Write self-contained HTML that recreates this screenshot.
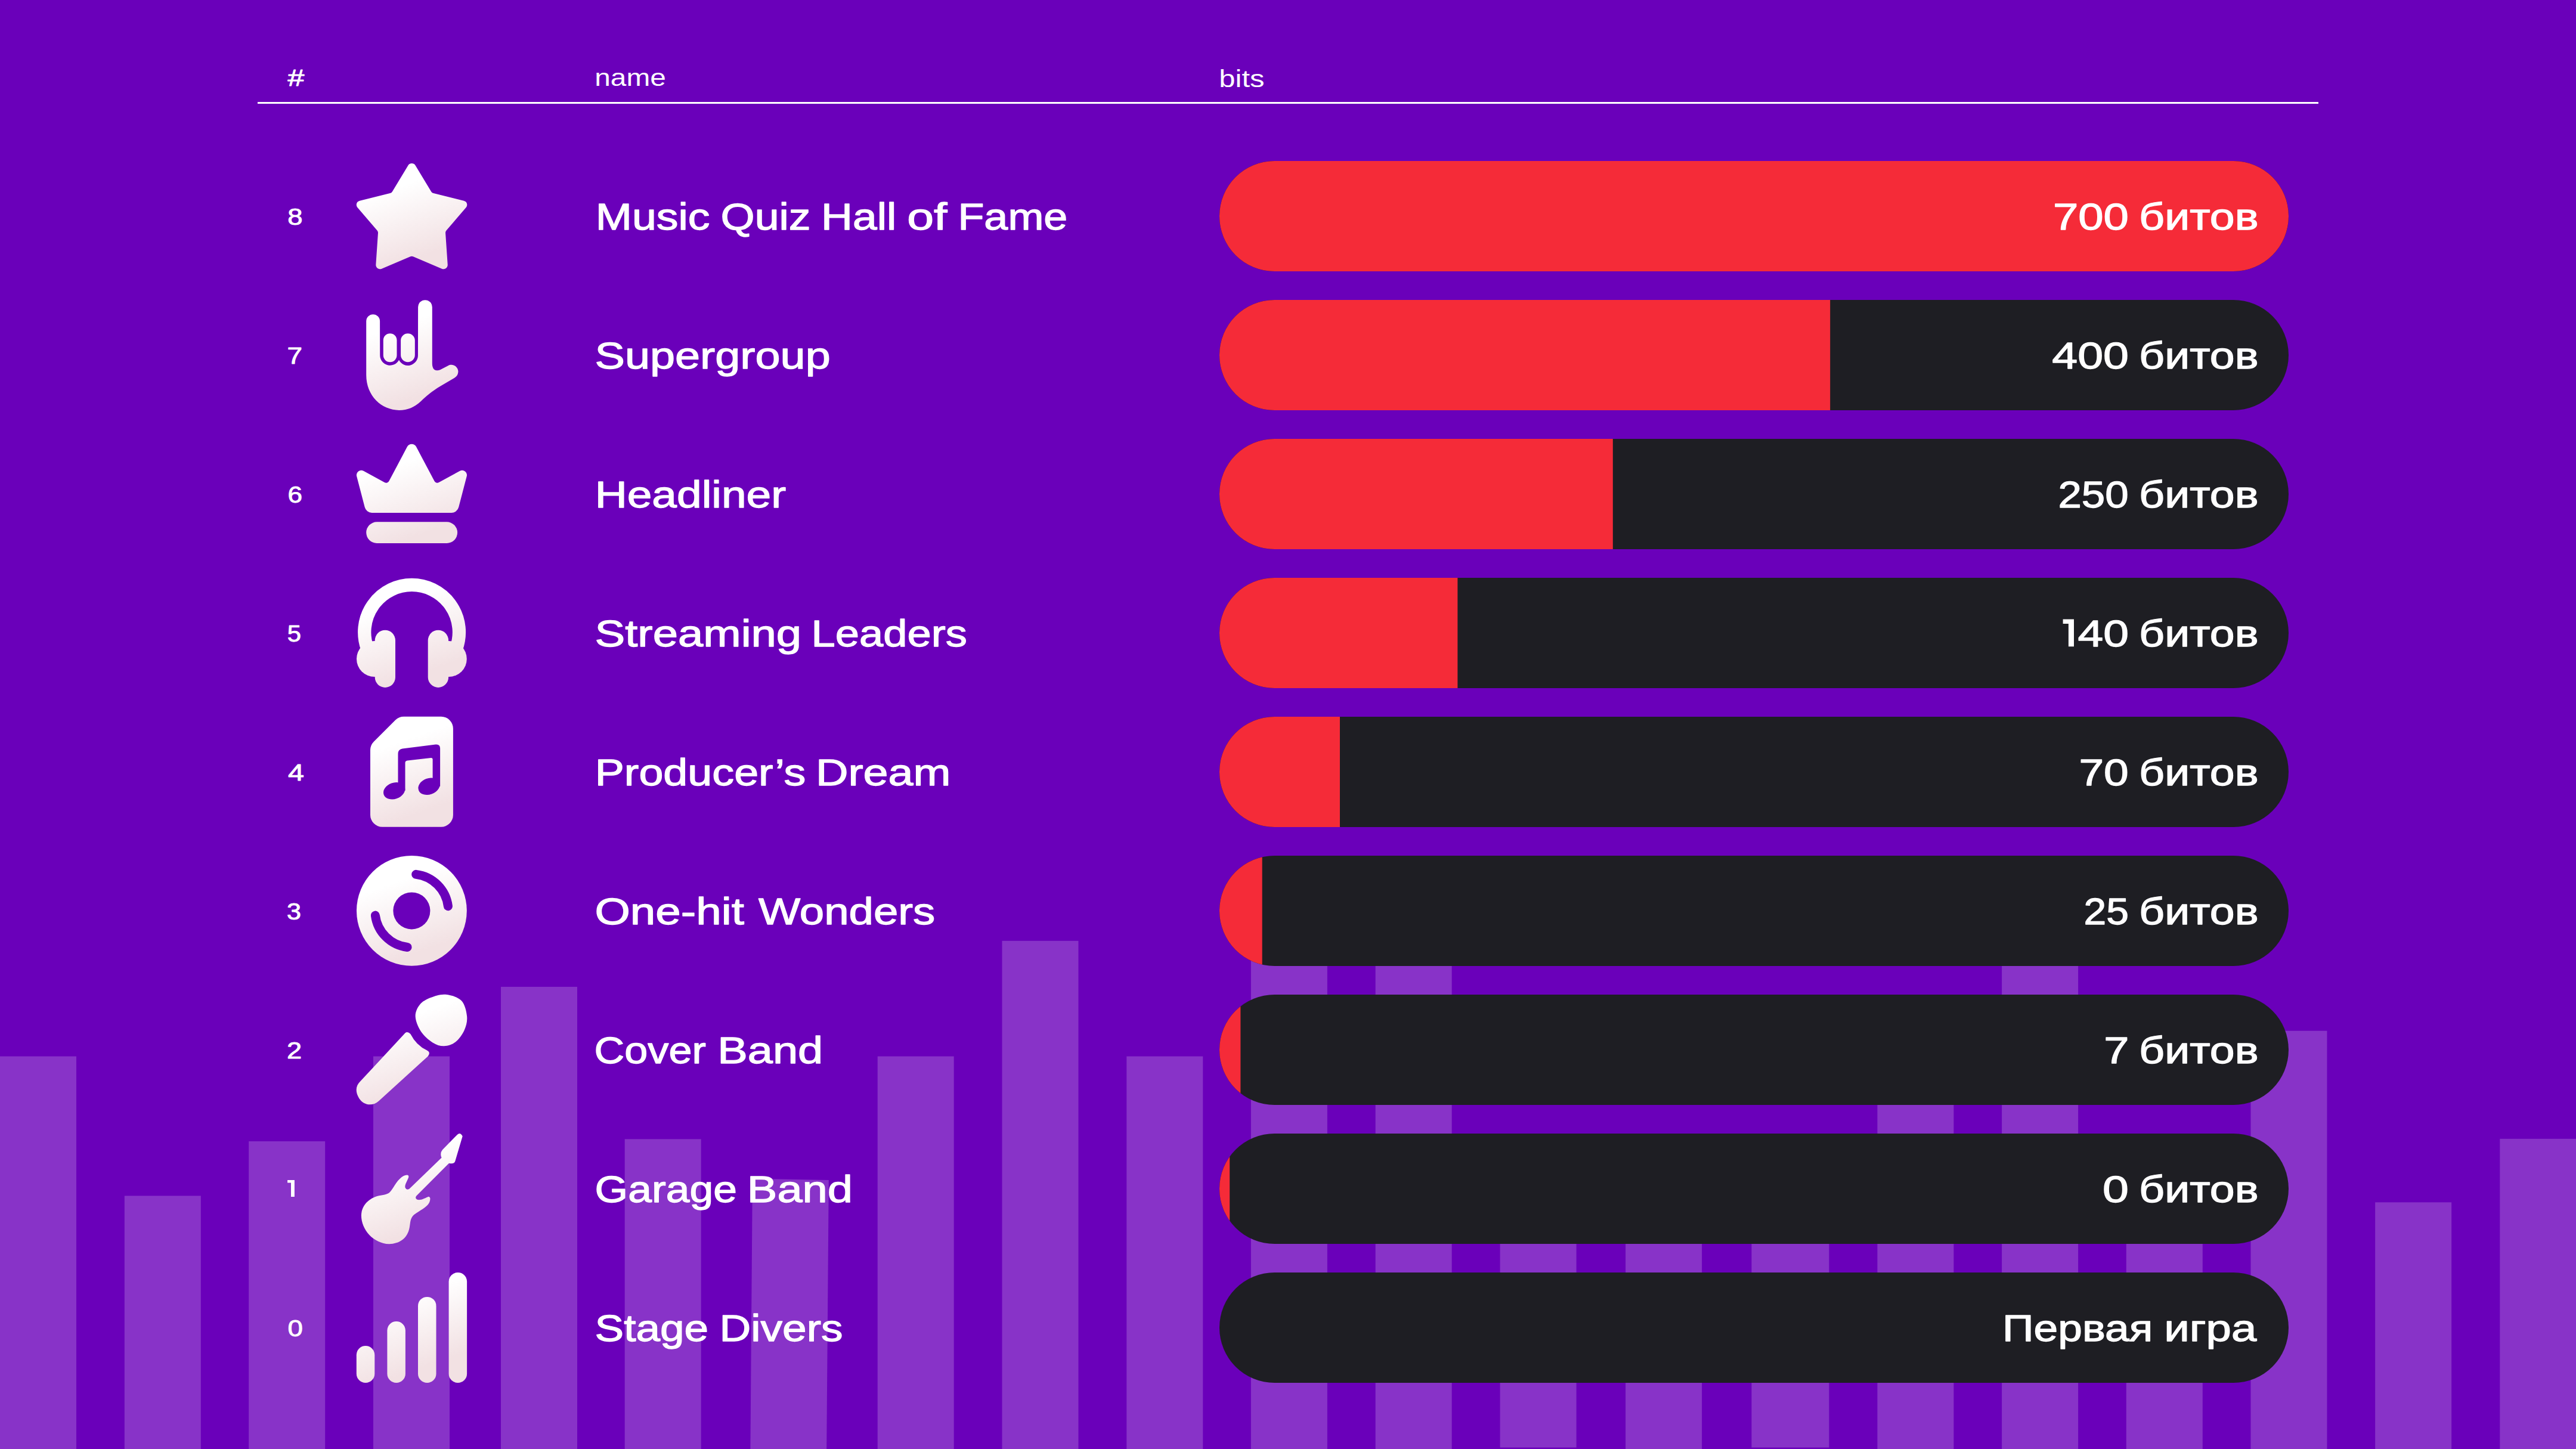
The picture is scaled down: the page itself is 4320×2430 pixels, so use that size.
<!DOCTYPE html>
<html><head><meta charset="utf-8"><title>Leaderboard</title>
<style>
html,body{margin:0;padding:0;}
body{width:4320px;height:2430px;overflow:hidden;background:#6A00BA;font-family:"Liberation Sans",sans-serif;}
svg{position:absolute;left:0;top:0;display:block;}
text{fill:#fff;font-family:"Liberation Sans",sans-serif;}
.b{font-weight:400;stroke:#fff;stroke-linejoin:round;}
.r{font-weight:400;}
.t{font-size:63px;stroke-width:1.3px;}
.n{font-size:39px;stroke-width:0.9px;}
.h{font-size:40px;}
</style></head><body>
<svg width="4320" height="2430" viewBox="0 0 4320 2430">
<rect fill="#8833C8" x="0" y="1771.5" width="128" height="658.5"/>
<rect fill="#8833C8" x="208.8" y="2005.4" width="128" height="424.6"/>
<rect fill="#8833C8" x="417.2" y="1914" width="128" height="516"/>
<rect fill="#8833C8" x="626" y="1771.5" width="128" height="658.5"/>
<rect fill="#8833C8" x="840" y="1654.9" width="128" height="775.1"/>
<rect fill="#8833C8" x="1047.7" y="1910.3" width="128" height="519.7"/>
<polygon fill="#8833C8" points="1261.9,1976.5 1389.8,1979.1 1386.2,2430 1258.4,2430"/>
<rect fill="#8833C8" x="1471.7" y="1771.5" width="128" height="658.5"/>
<rect fill="#8833C8" x="1680.5" y="1577.8" width="128" height="852.2"/>
<rect fill="#8833C8" x="1889.3" y="1771.5" width="128" height="658.5"/>
<rect fill="#8833C8" x="2097.9" y="1577.8" width="128" height="852.2"/>
<rect fill="#8833C8" x="2306.7" y="1577.8" width="128" height="852.2"/>
<rect fill="#8833C8" x="2515.6" y="1990" width="128" height="437.5"/>
<rect fill="#8833C8" x="2726.1" y="1978" width="128" height="452"/>
<rect fill="#8833C8" x="2937.4" y="1990" width="130" height="437.5"/>
<rect fill="#8833C8" x="3148.4" y="1771.5" width="128" height="658.5"/>
<rect fill="#8833C8" x="3357.1" y="1577.8" width="128" height="852.2"/>
<rect fill="#8833C8" x="3565.8" y="2005.4" width="128" height="424.6"/>
<rect fill="#8833C8" x="3774.5" y="1728.7" width="128" height="701.3"/>
<rect fill="#8833C8" x="3983.2" y="2016.3" width="128" height="413.7"/>
<rect fill="#8833C8" x="4192.3" y="1909.8" width="128" height="520.2"/>
<rect fill="#fff" x="432" y="171" width="3456" height="3"/>
<defs>
<clipPath id="c0"><rect x="2045" y="270" width="1793" height="185" rx="92.5"/></clipPath>
<clipPath id="c1"><rect x="2045" y="503" width="1793" height="185" rx="92.5"/></clipPath>
<clipPath id="c2"><rect x="2045" y="736" width="1793" height="185" rx="92.5"/></clipPath>
<clipPath id="c3"><rect x="2045" y="969" width="1793" height="185" rx="92.5"/></clipPath>
<clipPath id="c4"><rect x="2045" y="1202" width="1793" height="185" rx="92.5"/></clipPath>
<clipPath id="c5"><rect x="2045" y="1435" width="1793" height="185" rx="92.5"/></clipPath>
<clipPath id="c6"><rect x="2045" y="1668" width="1793" height="185" rx="92.5"/></clipPath>
<clipPath id="c7"><rect x="2045" y="1901" width="1793" height="185" rx="92.5"/></clipPath>
<clipPath id="c8"><rect x="2045" y="2134" width="1793" height="185" rx="92.5"/></clipPath>
</defs>
<g clip-path="url(#c0)"><rect fill="#1E1E23" x="2045" y="270" width="1793" height="185"/>
<rect fill="#F52B38" x="2045" y="270" width="1793" height="185"/>
</g>
<g clip-path="url(#c1)"><rect fill="#1E1E23" x="2045" y="503" width="1793" height="185"/>
<rect fill="#F52B38" x="2045" y="503" width="1024.2" height="185"/>
</g>
<g clip-path="url(#c2)"><rect fill="#1E1E23" x="2045" y="736" width="1793" height="185"/>
<rect fill="#F52B38" x="2045" y="736" width="659.8" height="185"/>
</g>
<g clip-path="url(#c3)"><rect fill="#1E1E23" x="2045" y="969" width="1793" height="185"/>
<rect fill="#F52B38" x="2045" y="969" width="399.4" height="185"/>
</g>
<g clip-path="url(#c4)"><rect fill="#1E1E23" x="2045" y="1202" width="1793" height="185"/>
<rect fill="#F52B38" x="2045" y="1202" width="202" height="185"/>
</g>
<g clip-path="url(#c5)"><rect fill="#1E1E23" x="2045" y="1435" width="1793" height="185"/>
<rect fill="#F52B38" x="2045" y="1435" width="71.7" height="185"/>
</g>
<g clip-path="url(#c6)"><rect fill="#1E1E23" x="2045" y="1668" width="1793" height="185"/>
<rect fill="#F52B38" x="2045" y="1668" width="35.4" height="185"/>
</g>
<g clip-path="url(#c7)"><rect fill="#1E1E23" x="2045" y="1901" width="1793" height="185"/>
<rect fill="#F52B38" x="2045" y="1901" width="17.2" height="185"/>
</g>
<g clip-path="url(#c8)"><rect fill="#1E1E23" x="2045" y="2134" width="1793" height="185"/>
</g>
<defs>
<linearGradient id="g0" gradientUnits="userSpaceOnUse" x1="660" y1="270" x2="725" y2="455"><stop offset="0.22" stop-color="#FFFFFF"/><stop offset="0.85" stop-color="#F2E1E3"/></linearGradient>
<linearGradient id="g1" gradientUnits="userSpaceOnUse" x1="660" y1="503" x2="725" y2="688"><stop offset="0.22" stop-color="#FFFFFF"/><stop offset="0.85" stop-color="#F2E1E3"/></linearGradient>
<linearGradient id="g2" gradientUnits="userSpaceOnUse" x1="660" y1="736" x2="725" y2="921"><stop offset="0.22" stop-color="#FFFFFF"/><stop offset="0.85" stop-color="#F2E1E3"/></linearGradient>
<linearGradient id="g3" gradientUnits="userSpaceOnUse" x1="660" y1="969" x2="725" y2="1154"><stop offset="0.22" stop-color="#FFFFFF"/><stop offset="0.85" stop-color="#F2E1E3"/></linearGradient>
<linearGradient id="g4" gradientUnits="userSpaceOnUse" x1="660" y1="1202" x2="725" y2="1387"><stop offset="0.22" stop-color="#FFFFFF"/><stop offset="0.85" stop-color="#F2E1E3"/></linearGradient>
<linearGradient id="g5" gradientUnits="userSpaceOnUse" x1="660" y1="1435" x2="725" y2="1620"><stop offset="0.22" stop-color="#FFFFFF"/><stop offset="0.85" stop-color="#F2E1E3"/></linearGradient>
<linearGradient id="g6" gradientUnits="userSpaceOnUse" x1="660" y1="1668" x2="725" y2="1853"><stop offset="0.22" stop-color="#FFFFFF"/><stop offset="0.85" stop-color="#F2E1E3"/></linearGradient>
<linearGradient id="g7" gradientUnits="userSpaceOnUse" x1="660" y1="1901" x2="725" y2="2086"><stop offset="0.22" stop-color="#FFFFFF"/><stop offset="0.85" stop-color="#F2E1E3"/></linearGradient>
<linearGradient id="g8" gradientUnits="userSpaceOnUse" x1="660" y1="2134" x2="725" y2="2319"><stop offset="0.22" stop-color="#FFFFFF"/><stop offset="0.85" stop-color="#F2E1E3"/></linearGradient>
</defs>
<path fill="url(#g0)" d="M684.54,277.28 A7,7 0 0 1 696.52,277.28 L723.25,321.39 A6,6 0 0 0 726.95,324.1 L777.93,336.63 A7,7 0 0 1 781.56,347.99 L748.52,386.38 A6,6 0 0 0 747.08,390.71 L750.72,443.8 A7,7 0 0 1 740.99,450.72 L692.88,430.21 A6,6 0 0 0 688.18,430.21 L640.07,450.72 A7,7 0 0 1 630.34,443.8 L633.98,390.71 A6,6 0 0 0 632.54,386.38 L599.5,347.99 A7,7 0 0 1 603.13,336.63 L654.11,324.1 A6,6 0 0 0 657.81,321.39Z"/>
<path fill="url(#g1)" d="M614.2,538.6 A11.4,11.4 0 0 1 637.1,538.6 L637.25,595.85 A16.9,16.9 0 0 0 669.05,603.8 A16.9,16.9 0 0 0 700.95,595.85 L701.1,515 A11.85,11.85 0 0 1 724.8,515 L724.8,609 Q724.8,624.5 738,620.3 L751.5,613.2 C760,608.5 769.5,616 768.3,624.5 C767.8,629.5 764.5,632.5 760,635 L740,646.8 C722,657.5 715,664.5 705.8,673 C695,683 684,687.9 669.3,687.9 C640,687.9 614.2,664 614.2,629.1 Z"/>
<rect fill="url(#g1)" x="642.8" y="559.2" width="22.7" height="48" rx="11.35"/>
<rect fill="url(#g1)" x="672.1" y="559.2" width="23.7" height="48" rx="11.85"/>
<path fill="url(#g2)" d="M598.19,798.67 A7.9,7.9 0 0 1 609.63,789.75 L644.91,809.03 A5.5,5.5 0 0 0 652.41,806.78 L682.85,749.34 A8.6,8.6 0 0 1 698.05,749.34 L728.49,806.78 A5.5,5.5 0 0 0 735.99,809.03 L771.27,789.75 A7.9,7.9 0 0 1 782.71,798.67 L769.21,850.62 A12.4,12.4 0 0 1 757.21,859.9 L623.69,859.9 A12.4,12.4 0 0 1 611.69,850.62Z"/>
<rect fill="url(#g2)" x="614.2" y="875.3" width="152.9" height="35.6" rx="17.8"/>
<path fill="none" stroke="url(#g3)" stroke-width="22.3" d="M616.04,1087.44 A79.35,79.35 0 1 1 765.16,1087.44"/>
<circle fill="url(#g3)" cx="628" cy="1105" r="30"/><circle fill="url(#g3)" cx="752.8" cy="1105" r="30"/>
<rect fill="url(#g3)" x="628.7" y="1056.8" width="34.3" height="96.1" rx="17.15"/>
<rect fill="url(#g3)" x="717.7" y="1056.8" width="34.4" height="96.1" rx="17.2"/>
<path fill="url(#g4)" d="M663.15,1207.61 A20,20 0 0 1 677.25,1201.8 L739.9,1201.8 A20,20 0 0 1 759.9,1221.8 L759.9,1366.7 A20,20 0 0 1 739.9,1386.7 L641,1386.7 A20,20 0 0 1 621,1366.7 L621,1257.82 A20,20 0 0 1 626.9,1243.63Z"/>
<path fill="#6A00BA" d="M667.5,1326 L667.5,1264 Q667.5,1256.5 675,1255.4 L730.5,1248.5 Q738.1,1247.6 738.1,1255 L738.1,1318.8 L725.6,1318.8 L725.6,1273.5 Q725.6,1270.7 722.6,1271 L683,1275.6 Q679.5,1276 679.5,1279.5 L679.5,1326 Z"/>
<ellipse fill="#6A00BA" cx="661.1" cy="1326.3" rx="18.6" ry="13.6" transform="rotate(-20 661.1 1326.3)"/>
<ellipse fill="#6A00BA" cx="719.5" cy="1318.8" rx="18.6" ry="13.6" transform="rotate(-20 719.5 1318.8)"/>
<circle fill="url(#g5)" cx="690.4" cy="1527.4" r="92.4"/>
<circle fill="#6A00BA" cx="690.4" cy="1527.4" r="31"/>
<path fill="none" stroke="#6A00BA" stroke-width="15" stroke-linecap="round" d="M697.68,1466.33 A61.5,61.5 0 0 1 751.42,1519.69"/>
<path fill="none" stroke="#6A00BA" stroke-width="15" stroke-linecap="round" d="M683.12,1588.47 A61.5,61.5 0 0 1 629.38,1535.11"/>
<path fill="url(#g6)" d="M747.18,1667.77 C755.74,1668.6 767.69,1671.91 773.68,1678.04 C779.67,1684.17 782.3,1696.26 783.12,1704.54 C783.95,1712.82 781.88,1720.55 778.65,1727.73 C775.42,1734.91 769.4,1743.19 763.74,1747.61 C758.08,1752.03 751.04,1754.1 744.69,1754.23 C738.34,1754.37 732.13,1752.58 725.65,1748.44 C719.16,1744.3 710.6,1736.7 705.77,1729.39 C700.94,1722.07 696.93,1711.99 696.66,1704.54 C696.38,1697.09 699.83,1689.91 704.11,1684.66 C708.39,1679.42 715.15,1675.88 722.33,1673.07 C729.51,1670.25 738.62,1666.94 747.18,1667.77Z"/>
<path fill="url(#g6)" d="M679.6,1732.37 Q683.41,1729.06 688.38,1734.03 Q698.31,1753.41 715.71,1761.19 Q723.16,1765 717.36,1771.63 L635.37,1846.17 C624.6,1856.11 609.69,1853.62 602.24,1842.03 C594.79,1829.6 597.27,1820.49 603.9,1813.87 Z"/>
<path fill="url(#g7)" d="M767.06,1902.63 Q772.03,1898.16 775.67,1905.61 L763.41,1947.03 Q761.76,1952.82 752.98,1950.83 L698.31,2005.5 Q695,2009.97 700.8,2012.12 C707.42,2012.79 714.05,2008.31 718.69,2006.66 Q723.16,2007.49 720.34,2015.77 C717.36,2024.05 704.11,2029.85 694.17,2037.3 C687.55,2043.1 688.38,2050.55 686.72,2058.84 C683.41,2077.06 669.33,2086.17 652.76,2086.17 C626.26,2085.34 605.88,2062.15 605.88,2038.13 C606.38,2017.42 624.6,2005.83 641.17,2004.17 C652.76,2002.52 654.42,1999.2 659.39,1991.75 C666.01,1980.15 674.3,1970.71 682.58,1970.38 Q686.72,1970.71 684.57,1976.01 C681.75,1982.64 678.44,1987.61 679.6,1991.75 Q681.75,1996.72 686.72,1993.41 L740.55,1941.56 Q737.24,1933.77 742.21,1927.98 Z"/>
<rect fill="url(#g8)" x="597.8" y="2257" width="30.5" height="62" rx="15.25"/>
<rect fill="url(#g8)" x="649.4" y="2216" width="30.5" height="103" rx="15.25"/>
<rect fill="url(#g8)" x="701" y="2174.9" width="30.5" height="144.1" rx="15.25"/>
<rect fill="url(#g8)" x="752.6" y="2134" width="30.5" height="185" rx="15.25"/>
<text class="b n" x="482.6" y="144.3" textLength="27.82" lengthAdjust="spacingAndGlyphs">#</text>
<text class="r h" x="997.22" y="144.3" textLength="119.55" lengthAdjust="spacingAndGlyphs">name</text>
<text class="r h" x="2044.22" y="146.1" textLength="76.31" lengthAdjust="spacingAndGlyphs">bits</text>
<text class="b n" x="482.34" y="376.7" textLength="25.28" lengthAdjust="spacingAndGlyphs">8</text>
<text class="b n" x="481.62" y="609.7" textLength="25.59" lengthAdjust="spacingAndGlyphs">7</text>
<text class="b n" x="482.57" y="842.7" textLength="24.52" lengthAdjust="spacingAndGlyphs">6</text>
<text class="b n" x="481.73" y="1075.7" textLength="23.22" lengthAdjust="spacingAndGlyphs">5</text>
<text class="b n" x="482.9" y="1308.7" textLength="26.97" lengthAdjust="spacingAndGlyphs">4</text>
<text class="b n" x="480.9" y="1541.7" textLength="23.98" lengthAdjust="spacingAndGlyphs">3</text>
<text class="b n" x="481.14" y="1774.7" textLength="25.13" lengthAdjust="spacingAndGlyphs">2</text>
<text class="b n" x="482.63" y="2240.7" textLength="25.39" lengthAdjust="spacingAndGlyphs">0</text>
<text class="b t" x="998.84" y="385.2" textLength="191.62" lengthAdjust="spacingAndGlyphs">Music</text>
<text class="b t" x="1208.57" y="385.2" textLength="151" lengthAdjust="spacingAndGlyphs">Quiz</text>
<text class="b t" x="1377.05" y="385.2" textLength="126.15" lengthAdjust="spacingAndGlyphs">Hall</text>
<text class="b t" x="1521.34" y="385.2" textLength="67.18" lengthAdjust="spacingAndGlyphs">of</text>
<text class="b t" x="1606.43" y="385.2" textLength="183.91" lengthAdjust="spacingAndGlyphs">Fame</text>
<text class="b t" x="997.5" y="618.2" textLength="395.2" lengthAdjust="spacingAndGlyphs">Supergroup</text>
<text class="b t" x="997.65" y="851.2" textLength="320.55" lengthAdjust="spacingAndGlyphs">Headliner</text>
<text class="b t" x="997.49" y="1084.2" textLength="346.71" lengthAdjust="spacingAndGlyphs">Streaming</text>
<text class="b t" x="1360.61" y="1084.2" textLength="261.31" lengthAdjust="spacingAndGlyphs">Leaders</text>
<text class="b t" x="997.72" y="1317.2" textLength="353.53" lengthAdjust="spacingAndGlyphs">Producer’s</text>
<text class="b t" x="1367.91" y="1317.2" textLength="226.42" lengthAdjust="spacingAndGlyphs">Dream</text>
<text class="b t" x="997.48" y="1550.2" textLength="250.45" lengthAdjust="spacingAndGlyphs">One-hit</text>
<text class="b t" x="1272" y="1550.2" textLength="296.22" lengthAdjust="spacingAndGlyphs">Wonders</text>
<text class="b t" x="996.56" y="1783.2" textLength="187.31" lengthAdjust="spacingAndGlyphs">Cover</text>
<text class="b t" x="1203.19" y="1783.2" textLength="176.99" lengthAdjust="spacingAndGlyphs">Band</text>
<text class="b t" x="997.63" y="2016.2" textLength="238.3" lengthAdjust="spacingAndGlyphs">Garage</text>
<text class="b t" x="1252.89" y="2016.2" textLength="176.99" lengthAdjust="spacingAndGlyphs">Band</text>
<text class="b t" x="997.59" y="2249.2" textLength="190.47" lengthAdjust="spacingAndGlyphs">Stage</text>
<text class="b t" x="1206.46" y="2249.2" textLength="207.1" lengthAdjust="spacingAndGlyphs">Divers</text>
<text class="b t" x="3442.98" y="385.2" textLength="126.99" lengthAdjust="spacingAndGlyphs">700</text>
<text class="b t" x="3587.12" y="385.2" textLength="200.49" lengthAdjust="spacingAndGlyphs">битов</text>
<text class="b t" x="3441.28" y="618.2" textLength="128.73" lengthAdjust="spacingAndGlyphs">400</text>
<text class="b t" x="3587.12" y="618.2" textLength="200.49" lengthAdjust="spacingAndGlyphs">битов</text>
<text class="b t" x="3451.45" y="851.2" textLength="118.24" lengthAdjust="spacingAndGlyphs">250</text>
<text class="b t" x="3587.12" y="851.2" textLength="200.49" lengthAdjust="spacingAndGlyphs">битов</text>
<text class="b t" x="3484.58" y="1084.2" textLength="85.56" lengthAdjust="spacingAndGlyphs">40</text>
<text class="b t" x="3587.12" y="1084.2" textLength="200.49" lengthAdjust="spacingAndGlyphs">битов</text>
<text class="b t" x="3486.43" y="1317.2" textLength="83.34" lengthAdjust="spacingAndGlyphs">70</text>
<text class="b t" x="3587.12" y="1317.2" textLength="200.49" lengthAdjust="spacingAndGlyphs">битов</text>
<text class="b t" x="3494.55" y="1550.2" textLength="75.39" lengthAdjust="spacingAndGlyphs">25</text>
<text class="b t" x="3587.12" y="1550.2" textLength="200.49" lengthAdjust="spacingAndGlyphs">битов</text>
<text class="b t" x="3528.39" y="1783.2" textLength="42.17" lengthAdjust="spacingAndGlyphs">7</text>
<text class="b t" x="3587.12" y="1783.2" textLength="200.49" lengthAdjust="spacingAndGlyphs">битов</text>
<text class="b t" x="3525.9" y="2016.2" textLength="43.87" lengthAdjust="spacingAndGlyphs">0</text>
<text class="b t" x="3587.12" y="2016.2" textLength="200.49" lengthAdjust="spacingAndGlyphs">битов</text>
<text class="b t" x="3358.06" y="2249.2" textLength="252.25" lengthAdjust="spacingAndGlyphs">Первая</text>
<text class="b t" x="3629.16" y="2249.2" textLength="155.13" lengthAdjust="spacingAndGlyphs">игра</text>
<path fill="#fff" d="M482.1,1979H493.9V2007H488V1983.4H482.1Z"/>
<path fill="#fff" d="M3459.6,1038.6H3478V1084.3H3468.9V1046.05H3459.6Z"/>
</svg>
</body></html>
